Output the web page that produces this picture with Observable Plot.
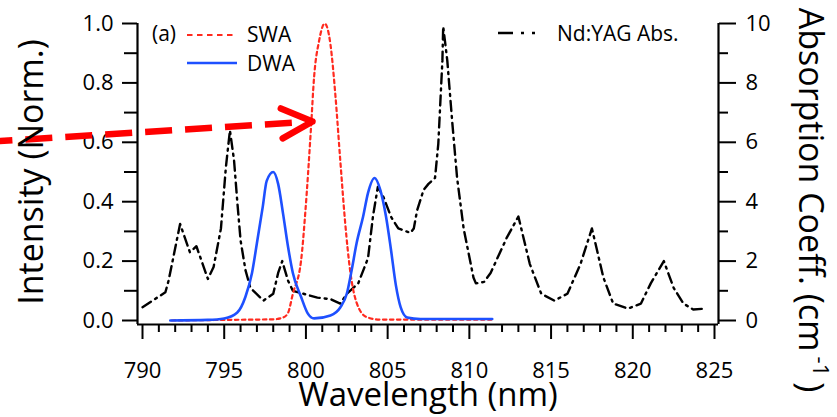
<!DOCTYPE html>
<html><head><meta charset="utf-8">
<script src="https://cdn.jsdelivr.net/npm/d3@7"></script>
<script src="https://cdn.jsdelivr.net/npm/@observablehq/plot@0.6"></script>
<style>
body{margin:0;background:#fff}
#chart{position:relative;width:837px;height:417px}
</style>
</head><body><div id="chart"></div>
<script>
// ---- data ----
const absWl   = [790.0, 791.4, 791.6, 792.3, 792.9, 793.3, 794.0, 794.35, 794.8, 795.1, 795.35, 795.6, 795.8, 796.0, 796.3, 796.6, 797.4, 798.0, 798.3, 798.55, 798.9, 799.2, 799.85, 800.7, 801.5, 802.1, 802.5, 803.2, 803.8, 804.1, 804.4, 804.75, 805.2, 805.65, 806.4, 806.6, 806.8, 807.2, 807.5, 807.9, 808.1, 808.35, 808.4, 808.65, 808.95, 809.25, 809.65, 810.25, 810.4, 810.9, 811.3, 812.3, 813.0, 813.7, 814.4, 815.2, 816.0, 816.8, 817.5, 818.2, 818.8, 819.7, 820.5, 821.1, 821.9, 822.5, 823.1, 823.7, 824.4];
const absCoef = [0.45, 0.95, 1.35, 3.25, 2.3, 2.5, 1.4, 1.8, 3.1, 5.15, 6.4, 5.4, 4.0, 2.7, 1.7, 1.1, 0.67, 0.9, 1.6, 2.0, 1.35, 1.0, 0.9, 0.77, 0.72, 0.57, 0.9, 1.25, 2.1, 3.5, 4.5, 4.15, 3.5, 3.1, 2.95, 3.1, 3.7, 4.4, 4.6, 4.8, 5.95, 8.75, 9.9, 8.75, 6.7, 4.8, 3.1, 1.45, 1.25, 1.3, 1.6, 2.8, 3.5, 1.9, 0.9, 0.67, 0.9, 1.9, 3.1, 1.45, 0.57, 0.4, 0.57, 1.25, 2.0, 1.1, 0.57, 0.37, 0.4];

const swaWl  = [791.8, 795.0, 798.0, 798.6, 798.9, 799.2, 799.7, 799.97, 800.3, 800.5, 800.8, 801.15, 801.5, 801.8, 802.1, 802.4, 802.7, 803.1, 803.7, 804.5, 811.4];
const swaInt = [0.0, 0.002, 0.004, 0.01, 0.025, 0.09, 0.2, 0.37, 0.64, 0.82, 0.94, 1.0, 0.93, 0.76, 0.54, 0.33, 0.17, 0.06, 0.012, 0.003, 0.003];

const dwaWl  = [791.7, 794.0, 795.0, 795.8, 796.3, 796.7, 797.0, 797.35, 797.6, 798.0, 798.3, 798.6, 798.9, 799.2, 799.7, 800.1, 800.5, 801.5, 802.1, 802.5, 802.8, 803.1, 803.5, 803.8, 804.2, 804.55, 804.9, 805.2, 805.5, 805.8, 806.2, 807.0, 811.4];
const dwaInt = [0.0, 0.002, 0.007, 0.027, 0.08, 0.16, 0.26, 0.38, 0.47, 0.5, 0.46, 0.36, 0.25, 0.16, 0.08, 0.025, 0.007, 0.017, 0.044, 0.09, 0.17, 0.26, 0.35, 0.43, 0.48, 0.44, 0.35, 0.24, 0.12, 0.044, 0.01, 0.005, 0.005];

const xMajor = [790, 795, 800, 805, 810, 815, 820, 825];
const xMinor = d3.range(790, 826, 1).filter(v => v % 5 !== 0);
const yMajor = [0, 0.2, 0.4, 0.6, 0.8, 1.0];
const yMinor = [0.1, 0.3, 0.5, 0.7, 0.9];
const rMajor = [0, 2, 4, 6, 8, 10];
const rMinor = [1, 3, 5, 7, 9];

// annotation arrow (data coordinates)
const arrowShaft = [{x1: 780.39, y1: 0.601, x2: 799.24, y2: 0.666}];
const arrowHead  = [{x1: 793.55, y1: 0.646, x2: 800.4, y2: 0.670}];

// ---- build ----
const absData = absWl.map((w, i) => ({w, v: absCoef[i]}));
const swaData = swaWl.map((w, i) => ({w, v: swaInt[i]}));
const dwaData = dwaWl.map((w, i) => ({w, v: dwaInt[i]}));

const X0 = 789.694, X1 = 825.245, Y0 = -0.01347, Y1 = 1.0;
const FONT = "'Open Sans', sans-serif";
const RED = "#ff0000", SWA = "#ff2a1f", BLUE = "#1e50ff";

const plot = Plot.plot({
  width: 837, height: 417,
  marginLeft: 137, marginRight: 119, marginTop: 23, marginBottom: 93,
  x: {domain: [X0, X1]},
  y: {domain: [Y0, Y1]},
  style: {fontFamily: FONT, fontSize: "22px", color: "#000", background: "#fff", overflow: "visible"},
  marks: [
    Plot.axisX({ticks: xMajor, tickSize: 15, tickPadding: 23, strokeWidth: 2, label: null, tickFormat: d => String(d)}),
    Plot.axisX({ticks: xMinor, tickSize: 8, text: null, strokeWidth: 2, label: null}),
    Plot.axisY({ticks: yMajor, tickSize: 15, tickPadding: 9, strokeWidth: 2, label: null, tickFormat: d3.format(".1f")}),
    Plot.axisY({ticks: yMinor, tickSize: 13, text: null, strokeWidth: 2, label: null}),
    Plot.axisY({anchor: "right", ticks: rMajor.map(v => v / 10), tickSize: 17, tickPadding: 10, strokeWidth: 2, label: null, tickFormat: v => String(Math.round(v * 10))}),
    Plot.axisY({anchor: "right", ticks: rMinor.map(v => v / 10), tickSize: 9, text: null, strokeWidth: 2, label: null}),
    Plot.ruleX([X0], {y1: Y0, y2: Y1, strokeWidth: 2.2}),
    Plot.ruleX([X1], {y1: Y0, y2: Y1, strokeWidth: 2.2}),
    Plot.ruleY([Y0], {x1: X0, x2: X1, strokeWidth: 2.2}),
    Plot.line(absData, {x: "w", y: d => d.v / 10, stroke: "#000", strokeWidth: 2.4, strokeDasharray: "10,5,2,5"}),
    Plot.line(swaData, {x: "w", y: "v", stroke: SWA, strokeWidth: 2.2, strokeDasharray: "3.5,3.5", curve: "monotone-x"}),
    Plot.line(dwaData, {x: "w", y: "v", stroke: BLUE, strokeWidth: 2.6, curve: "monotone-x"}),
    Plot.link(arrowShaft, {x1: "x1", y1: "y1", x2: "x2", y2: "y2", stroke: RED, strokeWidth: 6.5, strokeDasharray: "27,13"}),
    Plot.arrow(arrowHead, {x1: "x1", y1: "y1", x2: "x2", y2: "y2", stroke: RED, strokeWidth: 6.5, headLength: 7.9, headAngle: 52, insetStart: 108, strokeLinecap: "round", strokeLinejoin: "round"})
  ]
});
document.getElementById("chart").appendChild(plot);

// ---- titles & legend ----
const svg = d3.select(plot);
const g = svg.append("g").attr("font-family", FONT).attr("fill", "#000");

g.append("text").attr("transform", "translate(43,172) rotate(-90)")
  .attr("text-anchor", "middle").attr("font-size", 34).text("Intensity (Norm.)");
g.append("text").attr("x", 428).attr("y", 406)
  .attr("text-anchor", "middle").attr("font-size", 33).text("Wavelength (nm)");
const rt = g.append("text").attr("transform", "translate(799,200) rotate(90)")
  .attr("text-anchor", "middle").attr("font-size", 34);
rt.append("tspan").text("Absorption Coeff. (cm");
rt.append("tspan").attr("font-size", 22).attr("dx", 5).attr("dy", -14).text("-1");
rt.append("tspan").attr("dx", 6).attr("dy", 14).text(")");

const lg = svg.append("g").attr("font-family", FONT).attr("font-size", 21).attr("text-anchor", "start");
lg.append("text").attr("x", 152).attr("y", 41).text("(a)");
lg.append("line").attr("x1", 187).attr("x2", 237).attr("y1", 35).attr("y2", 35)
  .attr("stroke", SWA).attr("stroke-width", 2.2).attr("stroke-dasharray", "5.5,4.5");
lg.append("text").attr("x", 247).attr("y", 42).text("SWA");
lg.append("line").attr("x1", 187).attr("x2", 237).attr("y1", 63).attr("y2", 63)
  .attr("stroke", BLUE).attr("stroke-width", 2.6);
lg.append("text").attr("x", 247).attr("y", 71).text("DWA");
lg.append("line").attr("x1", 498).attr("x2", 548).attr("y1", 33).attr("y2", 33)
  .attr("stroke", "#000").attr("stroke-width", 2.4).attr("stroke-dasharray", "15,8,3,8,3,20");
lg.append("text").attr("x", 557).attr("y", 41).text("Nd:YAG Abs.");
</script>
</body></html>
